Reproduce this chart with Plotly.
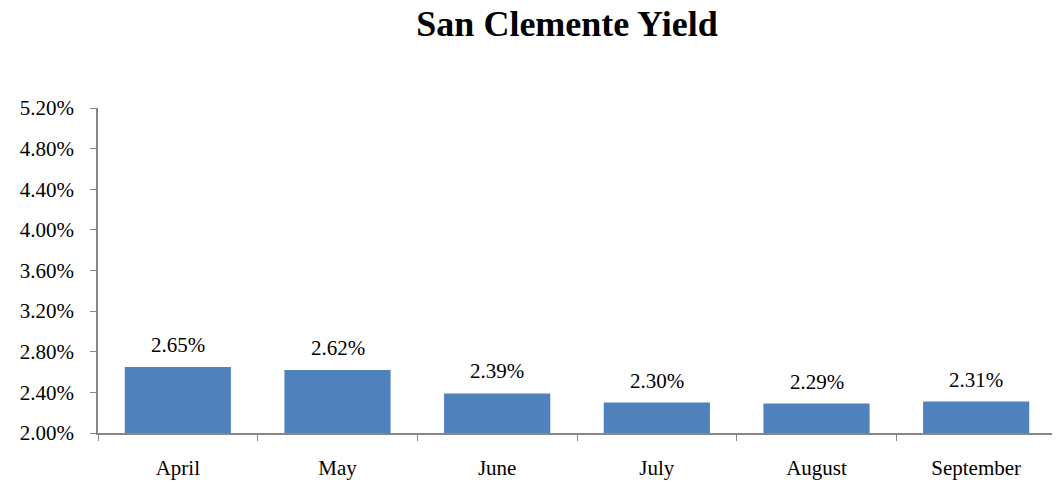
import plotly.graph_objects as go

months = ["April", "May", "June", "July", "August", "September"]
yields = [2.65, 2.62, 2.39, 2.30, 2.29, 2.31]
y_ticks = [2.0, 2.4, 2.8, 3.2, 3.6, 4.0, 4.4, 4.8, 5.2]

_BAR = "#4F81BD"
_AXIS = "#868686"
_FONT = "Liberation Serif, Times New Roman, serif"

fig = go.Figure(
    go.Bar(
        x=months,
        y=yields,
        marker=dict(color=_BAR, line=dict(width=0)),
        cliponaxis=False,
    )
)

# value labels above the bars
for m, v in zip(months, yields):
    fig.add_annotation(
        x=m, y=v, text=f"{v:.2f}%", showarrow=False,
        yanchor="bottom", yshift=8,
        font=dict(size=21, family=_FONT, color="#000000"),
    )

# page body adds 8px offset, so the figure is sized 8px smaller
fig.update_layout(
    width=1052,
    height=473,
    paper_bgcolor="white",
    plot_bgcolor="white",
    font=dict(family=_FONT, color="#000000", size=21),
    margin=dict(l=90, r=4, t=100, b=48, autoexpand=False),
    showlegend=False,
    bargap=0.335,
    title=dict(
        text="<b>San Clemente Yield</b>",
        font=dict(size=36, family=_FONT, color="#000000"),
        x=559 / 1052, xanchor="center", xref="container",
        y=1 - 15 / 473, yanchor="middle", yref="container",
    ),
    xaxis=dict(
        showline=True, linecolor=_AXIS, linewidth=1.5,
        ticks="outside", tickson="boundaries", ticklen=6, tickcolor=_AXIS,
        ticklabelstandoff=15, automargin=False,
        showgrid=False, zeroline=False,
        tickfont=dict(size=21, family=_FONT),
    ),
    yaxis=dict(
        range=[2.0, 5.2],
        tickvals=y_ticks,
        ticktext=[f"{v:.2f}%" for v in y_ticks],
        showline=True, linecolor=_AXIS, linewidth=1.5,
        ticks="outside", ticklen=6, tickcolor=_AXIS,
        ticklabelstandoff=12, automargin=False,
        showgrid=False, zeroline=False,
        tickfont=dict(size=21, family=_FONT),
    ),
)

fig.write_html("out.html")
